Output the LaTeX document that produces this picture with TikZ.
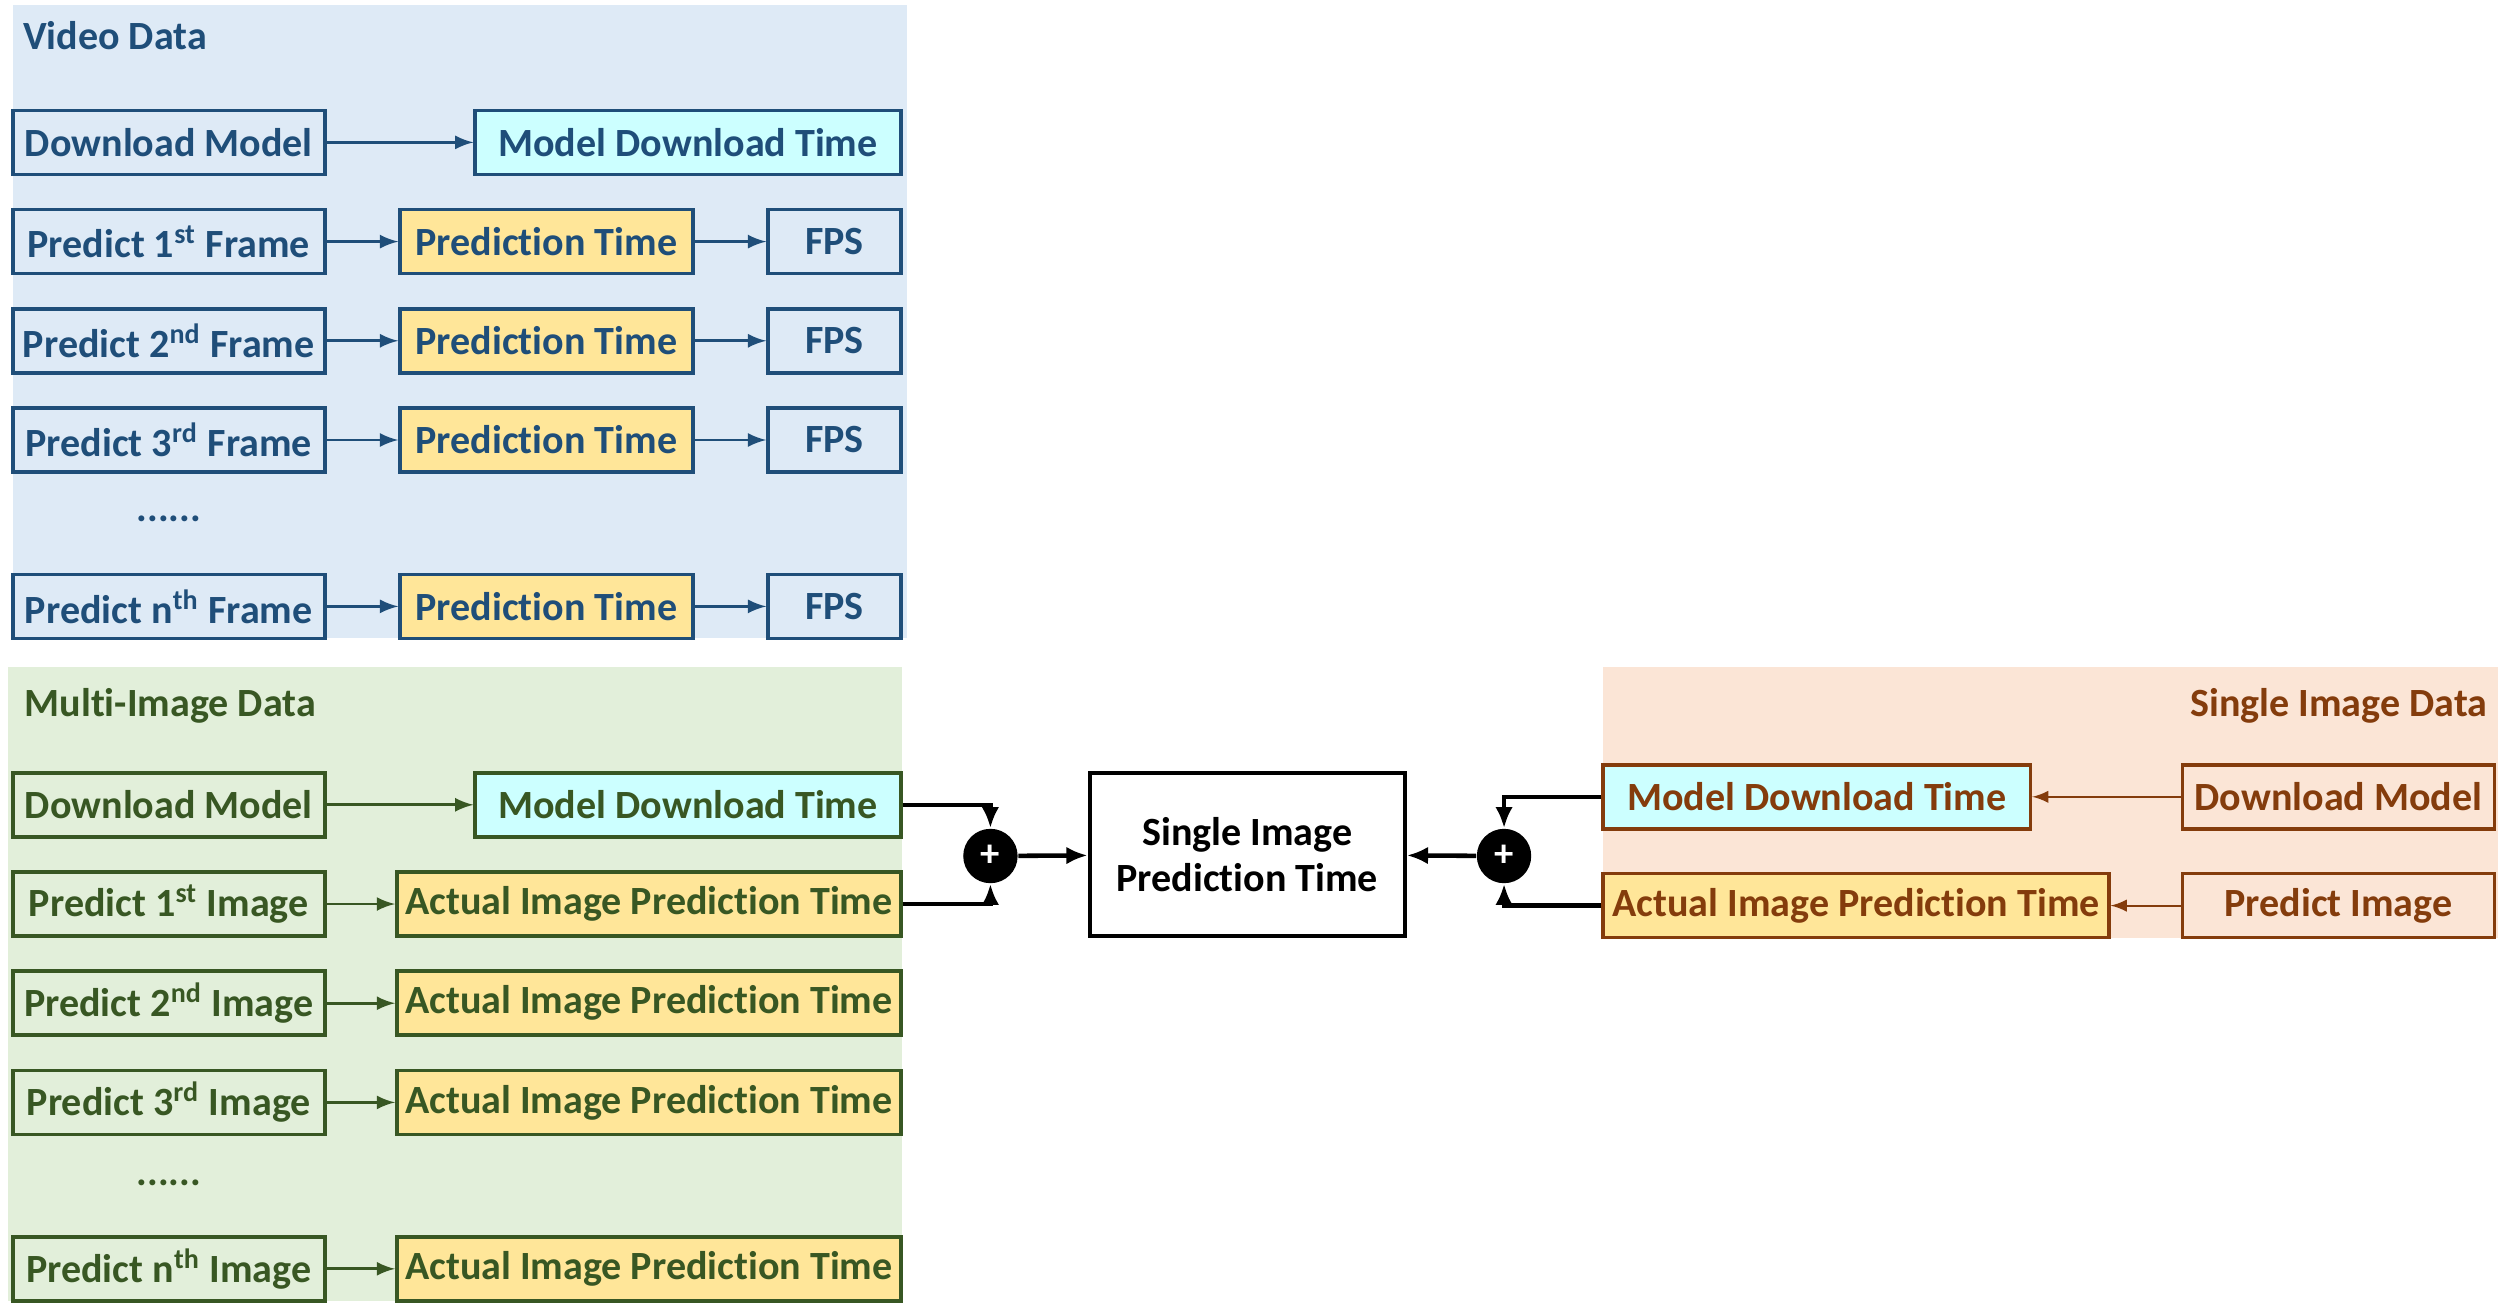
\documentclass[tikz,border=0pt]{standalone}
\usepackage{fontspec}
\setmainfont{Carlito}[RawFeature={-liga}]
\usetikzlibrary{calc,arrows.meta}

\definecolor{vidbg}{HTML}{DEEAF6}
\definecolor{viddark}{HTML}{1F4E79}
\definecolor{multibg}{HTML}{E2EFDA}
\definecolor{multidark}{HTML}{385723}
\definecolor{singlebg}{HTML}{FBE5D6}
\definecolor{singledark}{HTML}{843C0C}
\definecolor{cyanfill}{HTML}{CCFFFF}
\definecolor{yellowfill}{HTML}{FFE699}

\def\unitpx{0.016cm}

\tikzset{
	box/.style={draw, line width=1pt, minimum height=40*\unitpx, inner sep=0pt,
		font=\fontsize{11.4}{13.7}\selectfont\bfseries},
	vbox/.style={box, draw=viddark, text=viddark},
	mbox/.style={box, draw=multidark, text=multidark},
	sbox/.style={box, draw=singledark, text=singledark},
	title/.style={font=\fontsize{11.4}{13.7}\selectfont\bfseries, inner sep=0pt},
	plus/.style={circle, fill=black, text=white, minimum size=34*\unitpx, inner sep=0pt,
		font=\fontsize{11}{12}\selectfont\bfseries},
	sumline/.style={line width=1.3pt, black, -{Latex[length=6pt, width=5pt]}},
}

\begin{document}
\begin{tikzpicture}[x=\unitpx, y=-\unitpx]

	\useasboundingbox (0,0) rectangle (1565.6,820);

	% backgrounds
	\fill[vidbg] (8,3) rectangle (567,399);
	\fill[multibg] (5,417) rectangle (564,813);
	\fill[singlebg] (1002,417) rectangle (1561,586);

	% video data
	\node[title, text=viddark, anchor=west] (vtitle) at (14,22) {Video Data};
	\node[vbox, minimum width=195*\unitpx] (vdm) at (105.5,89) {Download Model};
	\node[vbox, fill=cyanfill, minimum width=266*\unitpx] (vmdt) at (430,89) {Model Download Time};
	\draw[viddark, line width=0.8pt, -latex] (vdm) -- (vmdt);

	\foreach \y/\n/\s in {151/1/st, 213/2/nd, 275/3/rd, 379/n/th}
	{
		\node[vbox, minimum width=195*\unitpx] (vpred\n) at (105.5,\y) {Predict \n\textsuperscript{\s} Frame};
		\node[vbox, fill=yellowfill, minimum width=183*\unitpx] (vtime\n) at (341.5,\y) {Prediction Time};
		\node[vbox, minimum width=83*\unitpx] (vfps\n) at (521.5,\y) {FPS};
		\draw[viddark, line width=0.8pt, -latex] (vpred\n) -- (vtime\n); % frame to time
		\draw[viddark, line width=0.8pt, -latex] (vtime\n) -- (vfps\n); % time to fps
	}
	\node[title, text=viddark] (vdots) at (105.5,324) {......};

	% multi-image data
	\node[title, text=multidark, anchor=west] (mtitle) at (15,441) {Multi-Image Data};
	\node[mbox, minimum width=195*\unitpx] (mdm) at (105.5,503) {Download Model};
	\node[mbox, fill=cyanfill, minimum width=266*\unitpx] (mmdt) at (430,503) {Model Download Time};
	\draw[multidark, line width=0.8pt, -latex] (mdm) -- (mmdt);

	\foreach \y/\n/\s in {565/1/st, 627/2/nd, 689/3/rd, 793/n/th}
	{
		\node[mbox, minimum width=195*\unitpx] (mpred\n) at (105.5,\y) {Predict \n\textsuperscript{\s} Image};
		\node[mbox, fill=yellowfill, minimum width=315*\unitpx] (mtime\n) at (405.5,\y) {Actual Image Prediction Time};
		\draw[multidark, line width=0.8pt, -latex] (mpred\n) -- (mtime\n); % image to time
	}
	\node[title, text=multidark] (mdots) at (105.5,739) {......};

	% single image data
	\node[title, text=singledark, anchor=east] (stitle) at (1555,441) {Single Image Data};
	\node[sbox, fill=cyanfill, minimum width=267*\unitpx] (smdt) at (1135.5,498) {Model Download Time};
	\node[sbox, minimum width=195*\unitpx] (sdm) at (1461.5,498) {Download Model};
	\node[sbox, fill=yellowfill, minimum width=316*\unitpx] (stime) at (1160,566) {Actual Image Prediction Time};
	\node[sbox, minimum width=195*\unitpx] (spred) at (1461.5,566) {Predict Image};
	\draw[singledark, line width=0.6pt, -latex] (sdm) -- (smdt);
	\draw[singledark, line width=0.6pt, -latex] (spred) -- (stime);

	% result
	\node[draw, line width=1.2pt, minimum width=197*\unitpx, minimum height=102*\unitpx, align=center,
		font=\fontsize{11.4}{13.2}\selectfont\bfseries] (sipt) at (779.5,534) {Single Image\\Prediction Time};
	\node[plus] (plusm) at (619,535) {+};
	\node[plus] (pluss) at (940,535) {+};

	\draw[sumline] (mmdt.east) -| (plusm.north);
	\draw[sumline] (mtime1.east) -| (plusm.south);
	\draw[sumline] (plusm) -- (sipt);
	\draw[sumline] (smdt.west) -| (pluss.north);
	\draw[sumline] (stime.west) -| (pluss.south);
	\draw[sumline] (pluss) -- (sipt);
\end{tikzpicture}
\end{document}
